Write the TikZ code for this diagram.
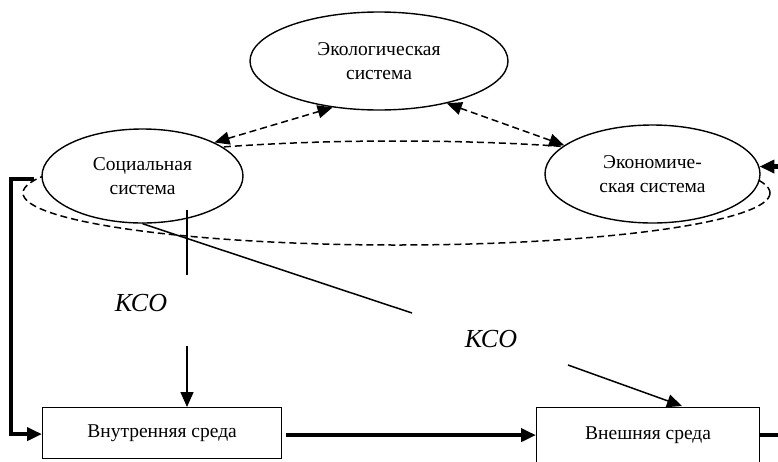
\documentclass[tikz,border=0pt]{standalone}
\usepackage{fontspec}
\setmainfont{Liberation Serif}
\usepackage{tikz}
\usetikzlibrary{shapes,arrows.meta,positioning,calc}

\begin{document}
\begin{tikzpicture}[x=1pt,y=-1pt,
            >={Triangle[length=15pt,width=13pt]},
            sysnode/.style={ellipse,draw,fill=white,line width=1.4pt,inner sep=0pt,align=center,font=\fontsize{19.5}{23.5}\selectfont},
            envbox/.style={rectangle,draw,fill=white,line width=1.2pt,inner sep=0pt,anchor=north west,font=\fontsize{19.5}{23.5}\selectfont},
            dasharrow/.style={<->,line width=1.5pt,dash pattern=on 7pt off 4pt},
            thinline/.style={line width=1.5pt},
            thickline/.style={line width=4.2pt},
            kso/.style={font=\fontsize{26}{30}\selectfont\itshape}]
            \useasboundingbox (0,0) rectangle (778,461);
            \draw[line width=1.5pt,dash pattern=on 7pt off 4pt] (396.5,193) ellipse [x radius=373.5, y radius=52];
            \node[sysnode,minimum width=258pt,minimum height=98pt] (eco) at (379,61) {Экологическая\\система};
            \node[sysnode,minimum width=201pt,minimum height=94pt] (soc) at (142.5,176) {Социальная\\система};
            \node[sysnode,minimum width=215pt,minimum height=98pt] (econ) at (652.5,174) {Экономиче-\\ская система};
            \node[envbox,minimum width=239pt,minimum height=51pt] (inner) at (42,407) {Внутренняя среда};
            \node[envbox,minimum width=223pt,text height=32pt,text depth=34pt] (outer) at (536,407) {Внешняя среда};
            \node[kso] (kso1) at (141,303) {КСО};
            \node[kso] (kso2) at (491,339) {КСО};
            \coordinate (vtop) at (187,210);
            \coordinate (vbot) at (187,275);
            \coordinate (arrtop) at (187,346);
            \coordinate (ksoend) at (412,313);
            \coordinate (diagstart) at (568,365);
            \coordinate (diagend) at (682,406);
            \draw[dasharrow] (soc.25) -- (eco.225);
            \draw[dasharrow] (eco.328) -- (econ.162);
            \draw[thinline] (soc.south) -- (ksoend);
            \draw[thinline] (vtop) -- (vbot);
            \draw[thinline,->] (arrtop) -- (arrtop |- inner.north);
            \draw[thinline,->] (diagstart) -- (diagend);
            \draw[thickline,->] ([xshift=4pt,yshift=-2pt]inner.east) -- ([yshift=-2pt]inner.east -| outer.west);
            \draw[thickline,->] ([xshift=-7pt,yshift=-3pt]soc.west) -- ++(-23,0) |- ([yshift=-1pt]inner.west);
            \draw[thickline,->] ([yshift=-2pt]inner.east -| outer.east) -- ++(30,0) |- (econ.4);
\end{tikzpicture}
\end{document}
